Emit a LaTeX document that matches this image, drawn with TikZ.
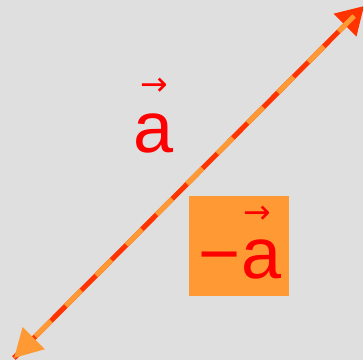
\documentclass[tikz,border=0pt]{standalone}
\usepackage{fontspec}
\setmainfont{Liberation Sans}
\newfontfamily\arrowfont{DejaVu Sans}
\usetikzlibrary{arrows.meta, positioning}
\definecolor{vorange}{HTML}{FF9933}
\definecolor{vred}{HTML}{FF3300}
\definecolor{vbg}{HTML}{DFDFDF}
\tikzset{
  va fwd/.style={draw=vred, line width=5pt, -{Triangle[length=27pt, width=31pt]}},
  va back/.style={draw=vorange, line width=5pt, dash pattern=on 22pt off 21pt,
    dash phase=29pt, -{Triangle[length=28pt, width=30pt]}},
  va label/.style={text=red, font=\fontsize{72}{72}\selectfont, inner sep=0pt},
  va arrow/.style={text=red, font=\arrowfont\fontsize{33}{33}\selectfont, inner sep=0pt},
  va box/.style={fill=vorange, minimum width=100pt, minimum height=100pt, inner sep=0pt},
}
\begin{document}
\begin{tikzpicture}[x=1pt, y=-1pt]
 \useasboundingbox (0,0) rectangle (363,360);
 \fill[vbg] (0,0) rectangle (363,360);
 \coordinate (tailA) at (14,358);
 \coordinate (headA) at (364,6);
 \node[va box] (negbox) at (239,246) {};
 \node[va label, anchor=base] (neglbl) at (240,278) {−a};
 \node[va arrow] (negarr) at (257,215) {→};
 \node[va label, anchor=base] (poslbl) at (154,152) {a};
 \node[va arrow] (posarr) at (154,87) {→};
 \draw[va fwd] (tailA) -- (headA);
 \draw[va back] (headA) -- (tailA);
\end{tikzpicture}
\end{document}
